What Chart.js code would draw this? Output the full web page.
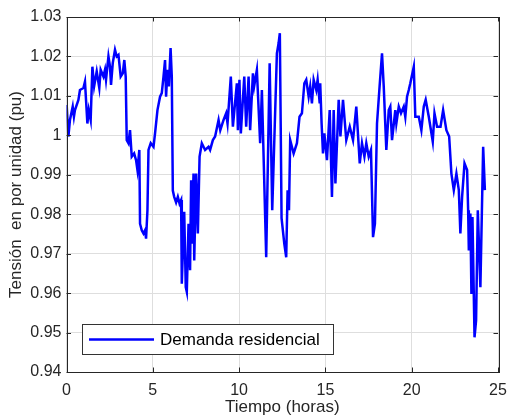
<!DOCTYPE html>
<html>
<head>
<meta charset="utf-8">
<script src="https://cdn.jsdelivr.net/npm/chart.js@4/dist/chart.umd.min.js"></script>
<style>
html,body{margin:0;padding:0;background:#fff;}
#wrap{width:509px;height:420px;position:relative;}
</style>
</head>
<body>
<div id="wrap"><canvas id="c" width="509" height="420"></canvas></div>
<script>
const horas = [0.01,0.11,0.20,0.36,0.43,0.49,0.69,0.78,0.98,1.07,1.21,1.29,1.40,1.50,1.60,1.75,1.90,1.98,2.14,2.23,2.29,2.43,2.52,2.58,2.68,2.81,2.91,3.01,3.06,3.14,3.26,3.35,3.43,3.49,3.59,3.68,3.78,3.92,4.03,4.11,4.22,4.26,4.36,4.46,4.55,4.61,4.69,4.75,4.88,5.04,5.13,5.27,5.42,5.52,5.62,5.71,5.77,5.85,5.93,6.03,6.10,6.16,6.24,6.35,6.45,6.55,6.64,6.68,6.82,6.91,6.97,7.07,7.16,7.22,7.26,7.36,7.40,7.51,7.61,7.71,7.84,8.03,8.23,8.32,8.48,8.61,8.81,8.91,9.10,9.25,9.33,9.52,9.64,9.87,9.93,10.02,10.10,10.30,10.41,10.55,10.64,10.80,10.87,11.03,11.22,11.32,11.57,11.77,11.92,12.19,12.29,12.36,12.40,12.46,12.62,12.73,12.81,12.89,12.96,13.16,13.35,13.50,13.64,13.78,13.89,14.03,14.12,14.22,14.32,14.47,14.55,14.67,14.70,14.78,14.86,14.94,15.09,15.25,15.38,15.48,15.58,15.77,15.87,16.02,16.21,16.41,16.60,16.79,16.99,17.12,17.26,17.37,17.51,17.64,17.76,17.87,17.99,18.14,18.28,18.38,18.53,18.67,18.76,18.86,19.05,19.11,19.25,19.38,19.54,19.63,19.73,19.83,19.92,20.12,20.21,20.41,20.56,20.70,20.81,20.99,21.22,21.32,21.47,21.67,21.82,22.01,22.17,22.30,22.44,22.59,22.73,22.82,22.92,23.06,23.21,23.27,23.31,23.40,23.46,23.52,23.64,23.73,23.83,23.98,24.14,24.24];
const tension = [1.0077,0.9997,1.0039,1.0073,1.0047,1.0064,1.0090,1.0115,1.0120,1.0136,1.0030,1.0064,1.0039,1.0174,1.0124,1.0162,1.0120,1.0166,1.0149,1.0166,1.0141,1.0200,1.0174,1.0128,1.0183,1.0217,1.0200,1.0204,1.0183,1.0149,1.0157,1.0191,1.0149,0.9988,0.9980,1.0013,0.9946,0.9954,0.9937,0.9912,0.9963,0.9776,0.9759,0.9751,0.9759,0.9738,0.9810,0.9963,0.9980,0.9971,1.0005,1.0064,1.0098,1.0107,1.0149,1.0191,1.0098,1.0166,1.0124,1.0221,1.0149,0.9860,0.9844,0.9830,0.9844,0.9827,0.9836,0.9624,0.9806,0.9615,0.9603,0.9776,0.9658,0.9886,0.9725,0.9903,0.9683,0.9903,0.9751,0.9946,0.9980,0.9963,0.9971,0.9963,0.9988,0.9997,1.0039,1.0013,1.0039,1.0056,1.0030,1.0149,1.0022,1.0132,1.0013,1.0141,1.0005,1.0149,1.0022,1.0149,1.0013,1.0157,1.0124,1.0166,0.9980,1.0115,0.9691,1.0183,0.9810,1.0208,1.0234,1.0259,1.0073,0.9790,0.9725,0.9691,0.9861,0.9810,0.9988,0.9954,0.9980,1.0047,1.0056,1.0132,1.0141,1.0098,1.0124,1.0081,1.0141,1.0115,1.0141,1.0081,1.0132,1.0030,0.9954,1.0005,0.9937,1.0064,0.9844,1.0064,0.9878,1.0090,0.9997,1.0090,0.9988,1.0022,0.9988,1.0073,0.9929,0.9980,0.9946,0.9980,0.9946,0.9963,0.9742,0.9776,1.0030,1.0124,1.0208,1.0124,0.9963,1.0064,1.0073,0.9988,1.0064,1.0030,1.0073,1.0056,1.0073,1.0047,1.0098,1.0115,1.0132,1.0174,1.0047,1.0047,1.0013,1.0073,1.0090,1.0047,0.9984,1.0056,1.0022,1.0022,1.0064,1.0013,0.9997,0.9903,0.9861,0.9903,0.9861,0.9751,0.9844,0.9929,0.9912,0.9810,0.9708,0.9802,0.9598,0.9793,0.9488,0.9531,0.9810,0.9615,0.9971,0.9861];
const xTicks = [0,5,10,15,20,25];
const yTicks = [0.94,0.95,0.96,0.97,0.98,0.99,1.00,1.01,1.02,1.03];
const serieNombre = 'Demanda residencial';
const xTitulo = 'Tiempo (horas)';
const yTitulo = 'Tensión  en por unidad (pu)';

const FONT = '"Liberation Sans", Arial, Helvetica, sans-serif';
const AX = '#262626';

const boxPlugin = {
  id: 'boxPlugin',
  afterDatasetsDraw(chart) {
    const {ctx, chartArea: a, scales: {x, y}} = chart;
    ctx.save();
    ctx.strokeStyle = AX;
    ctx.lineWidth = 1;
    const tl = 4.5;
    ctx.beginPath();
    xTicks.forEach(v => {
      const px = Math.round(x.getPixelForValue(v)) + 0.5;
      ctx.moveTo(px, a.bottom); ctx.lineTo(px, a.bottom - tl);
      ctx.moveTo(px, a.top); ctx.lineTo(px, a.top + tl);
    });
    yTicks.forEach(v => {
      const py = Math.round(y.getPixelForValue(v)) + 0.5;
      ctx.moveTo(a.left, py); ctx.lineTo(a.left + tl, py);
      ctx.moveTo(a.right, py); ctx.lineTo(a.right - tl, py);
    });
    ctx.stroke();
    ctx.strokeRect(Math.round(a.left) + 0.5, Math.round(a.top) + 0.5, Math.round(a.right - a.left), Math.round(a.bottom - a.top));
    // legend
    const lx = a.left + 15.5, ly = a.top + 307, lw = 251, lh = 30;
    ctx.fillStyle = '#fff';
    ctx.fillRect(lx, ly, lw, lh);
    ctx.strokeStyle = '#333';
    ctx.strokeRect(Math.round(lx) + 0.5, Math.round(ly) + 0.5, lw, lh);
    ctx.strokeStyle = '#0000ff';
    ctx.lineWidth = 2.4;
    ctx.beginPath();
    ctx.moveTo(lx + 7, ly + 15.5); ctx.lineTo(lx + 72, ly + 15.5);
    ctx.stroke();
    ctx.fillStyle = '#000';
    ctx.font = '17px ' + FONT;
    ctx.textBaseline = 'middle';
    ctx.textAlign = 'left';
    ctx.fillText(serieNombre, lx + 78, ly + 16);
    ctx.restore();
  }
};

new Chart(document.getElementById('c'), {
  type: 'line',
  data: {
    datasets: [{
      label: serieNombre,
      data: horas.map((h, i) => ({x: h, y: tension[i]})),
      borderColor: '#0000ff',
      borderWidth: 2.5,
      pointRadius: 0,
      tension: 0,
      fill: false
    }]
  },
  options: {
    responsive: false,
    animation: false,
    devicePixelRatio: 1,
    layout: {padding: {left: 0, right: 11, top: 17, bottom: 0}},
    plugins: {legend: {display: false}, tooltip: {enabled: false}},
    scales: {
      x: {
        type: 'linear', min: 0, max: 25,
        afterBuildTicks(s) { s.ticks = xTicks.map(v => ({value: v})); },
        afterFit(s) { s.height = 48; s.paddingLeft = 0; s.paddingRight = 0; },
        grid: {color: '#dedede', lineWidth: 1, drawTicks: false},
        border: {display: false},
        ticks: {padding: 9, color: AX, font: {family: FONT, size: 16}, maxRotation: 0,
          callback: v => String(v)},
        title: {display: true, text: xTitulo, color: AX, font: {family: FONT, size: 17}, padding: {top: 0, bottom: 2}}
      },
      y: {
        type: 'linear', min: 0.94, max: 1.03,
        afterBuildTicks(s) { s.ticks = yTicks.map(v => ({value: v})); },
        afterFit(s) { s.width = 66.5; s.paddingTop = 0; s.paddingBottom = 0; },
        grid: {color: '#dedede', lineWidth: 1, drawTicks: false},
        border: {display: false},
        ticks: {padding: 5, color: AX, font: {family: FONT, size: 16},
          callback: v => String(Number(v.toFixed(2)))},
        title: {display: true, text: yTitulo, color: AX, font: {family: FONT, size: 17}, padding: {top: 6, bottom: 0}}
      }
    }
  },
  plugins: [boxPlugin]
});
</script>
</body>
</html>
